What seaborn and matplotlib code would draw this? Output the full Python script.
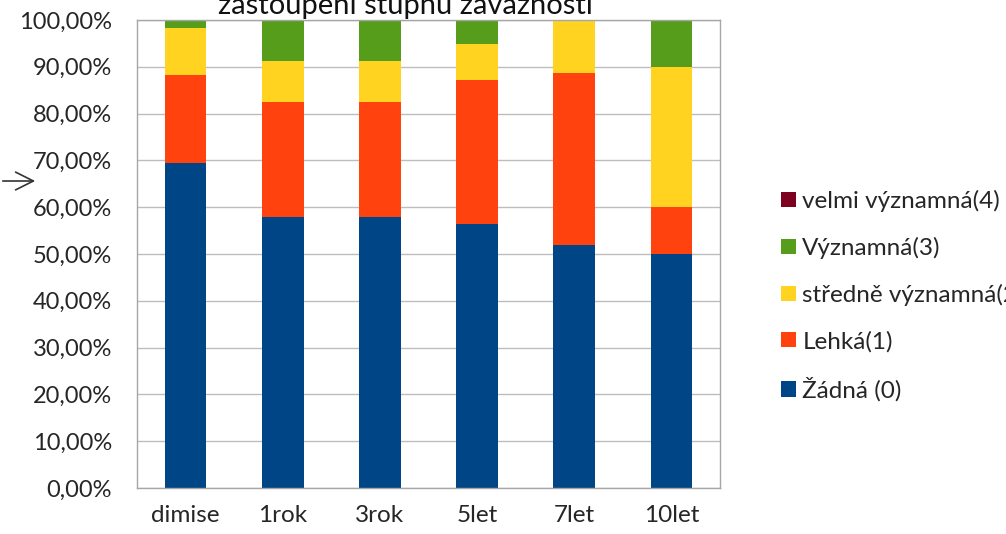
import matplotlib
matplotlib.use("Agg")
import matplotlib.pyplot as plt
import seaborn as sns
import pandas as pd
import numpy as np
from matplotlib.patches import Patch

categories = ["dimise", "1rok", "3rok", "5let", "7let", "10let"]
zadna = [69.4, 57.9, 57.9, 56.4, 51.9, 50.0]
lehka = [18.9, 24.6, 24.6, 30.8, 36.8, 10.0]
stredne = [10.0, 8.7, 8.7, 7.7, 11.3, 30.0]
vyznamna = [1.7, 8.8, 8.8, 5.1, 0.0, 10.0]
velmi = [0.0, 0.0, 0.0, 0.0, 0.0, 0.0]

series_names = ["Žádná (0)", "Lehká(1)", "středně významná(2)", "Významná(3)", "velmi významná(4)"]
series_vals = [zadna, lehka, stredne, vyznamna, velmi]
colors = ["#004586", "#FF420E", "#FFD320", "#579D1C", "#7E0021"]
yticks = [0, 10, 20, 30, 40, 50, 60, 70, 80, 90, 100]
ytick_labels = ["0,00%", "10,00%", "20,00%", "30,00%", "40,00%", "50,00%",
                "60,00%", "70,00%", "80,00%", "90,00%", "100,00%"]
title = "zastoupení stupňů závažnosti"

sns.set_theme(style="white")
plt.rcParams["font.family"] = ["Lato", "DejaVu Sans"]

fig = plt.figure(figsize=(10.06, 5.34), dpi=100)
ax = fig.add_axes([137/1006, 1-488/534, (720-137)/1006, (488-20)/534])

cum = np.cumsum(np.array(series_vals), axis=0)
for i in range(len(series_names) - 1, -1, -1):
    df = pd.DataFrame({"cat": categories, "val": cum[i]})
    sns.barplot(data=df, x="cat", y="val", color=colors[i], width=0.43,
                saturation=1, ax=ax, zorder=2, edgecolor="none")

ax.set_ylim(0, 100)
ax.set_xlim(-0.5, len(categories) - 0.5)
ax.set_yticks(yticks)
ax.set_yticklabels(ytick_labels)
ax.set_xlabel("")
ax.set_ylabel("")
ax.yaxis.grid(True, color="#bdbdbd", linewidth=1, zorder=0)
ax.set_axisbelow(True)
for s in ax.spines.values():
    s.set_visible(True)
    s.set_color("#a6a6a6")
    s.set_linewidth(1)
ax.tick_params(axis="y", length=0, pad=18, labelsize=17, labelcolor="#262626")
ax.tick_params(axis="x", length=0, pad=12, labelsize=17.5, labelcolor="#262626")

fig.text(405/1006, 1-14/534, title, ha="center", va="baseline", fontsize=21, color="#111111")

handles = [Patch(facecolor=colors[i], edgecolor="none") for i in range(len(series_names) - 1, -1, -1)]
labels = [series_names[i] for i in range(len(series_names) - 1, -1, -1)]
fig.legend(handles, labels, loc="upper left", bbox_to_anchor=(781/1006, 1-190/534),
           frameon=False, fontsize=17.5, handlelength=0.6, handleheight=0.6,
           handletextpad=0.28, labelspacing=1.02, borderaxespad=0, borderpad=0)

ax.annotate("", xy=(38/1006, 1-181/534), xytext=(0, 1-181/534),
            xycoords="figure fraction", textcoords="figure fraction",
            arrowprops=dict(arrowstyle="->", color="#333333", lw=1.2, mutation_scale=32),
            annotation_clip=False)

fig.savefig("out.png", dpi=100)
